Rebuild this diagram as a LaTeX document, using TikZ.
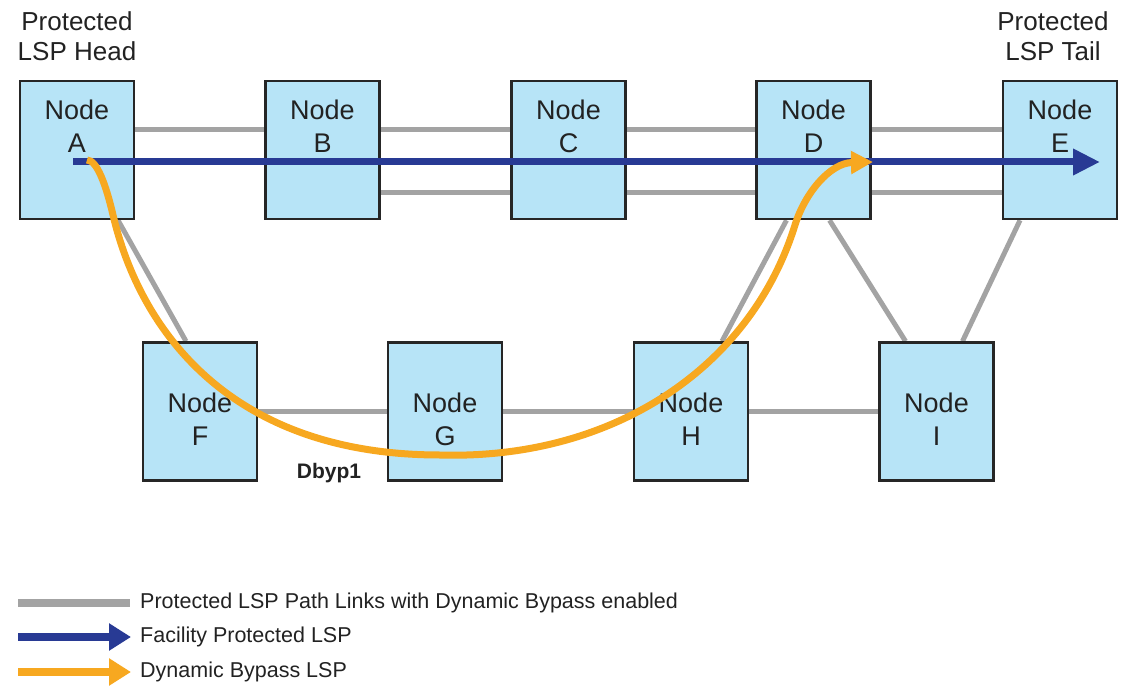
\documentclass[tikz,border=0pt]{standalone}
\usepackage{fontspec}
\setmainfont{Liberation Sans}
\usetikzlibrary{arrows.meta,backgrounds,calc}
\definecolor{boxblue}{RGB}{183,228,247}
\definecolor{linkgray}{RGB}{163,163,163}
\definecolor{lspblue}{RGB}{40,58,148}
\definecolor{bypassorange}{RGB}{247,168,32}
\definecolor{txt}{RGB}{34,34,34}
\tikzset{
  nodebox/.style={draw=black!85, line width=2.5pt, fill=boxblue, minimum width=114pt, minimum height=138pt, inner sep=0pt},
  nodetext/.style={text=txt, align=center, font=\fontsize{27}{33}\selectfont, inner sep=0pt},
  headlabel/.style={text=txt, align=center, font=\fontsize{26}{30}\selectfont, inner sep=0pt},
  link/.style={draw=linkgray, line width=5pt},
  facility/.style={draw=lspblue, line width=7pt, -{Triangle[length=27pt,width=25pt]}},
  bypass/.style={draw=bypassorange, line width=7pt, line join=round, -{Triangle[length=22pt,width=22pt]}},
  legtext/.style={text=txt, anchor=west, font=\fontsize{21.5}{24}\selectfont, inner sep=0pt},
}
\begin{document}
\begin{tikzpicture}[x=1pt,y=-1pt]
\useasboundingbox (0,0) rectangle (1131,692);
% boxes
\node[nodebox] (A) at (77,150) {};
\node[nodebox] (B) at (322.5,150) {};
\node[nodebox] (C) at (568.5,150) {};
\node[nodebox] (D) at (813.5,150) {};
\node[nodebox] (E) at (1060,150) {};
\node[nodebox] (F) at (200,411.5) {};
\node[nodebox] (G) at (445,411.5) {};
\node[nodebox] (H) at (691,411.5) {};
\node[nodebox] (I) at (936.5,411.5) {};
% texts
\node[nodetext] at ([yshift=24pt]A.center) {Node\\A};
\node[nodetext] at ([yshift=24pt]B.center) {Node\\B};
\node[nodetext] at ([yshift=24pt]C.center) {Node\\C};
\node[nodetext] at ([yshift=24pt]D.center) {Node\\D};
\node[nodetext] at ([yshift=24pt]E.center) {Node\\E};
\node[nodetext] at ([yshift=-8pt]F.center) {Node\\F};
\node[nodetext] at ([yshift=-8pt]G.center) {Node\\G};
\node[nodetext] at ([yshift=-8pt]H.center) {Node\\H};
\node[nodetext] at ([yshift=-8pt]I.center) {Node\\I};
\node[headlabel] (head) at (77,36) {Protected\\LSP Head};
\node[headlabel] (tail) at (1053,36) {Protected\\LSP Tail};
\node[text=txt, font=\fontsize{21}{24}\selectfont\bfseries, inner sep=0pt] (dbyp) at (329,473) {Dbyp1};
% links
\begin{scope}[on background layer]
\draw[link] ([yshift=20pt]A.center) -- ([yshift=20pt]B.center);
\draw[link] ([yshift=20pt]B.center) -- ([yshift=20pt]C.center);
\draw[link] ([yshift=-43pt]B.center) -- ([yshift=-43pt]C.center);
\draw[link] ([yshift=20pt]C.center) -- ([yshift=20pt]D.center);
\draw[link] ([yshift=-43pt]C.center) -- ([yshift=-43pt]D.center);
\draw[link] ([yshift=20pt]D.center) -- ([yshift=20pt]E.center);
\draw[link] ([yshift=-43pt]D.center) -- ([yshift=-43pt]E.center);
\draw[link] (F.center) -- (G.center);
\draw[link] (G.center) -- (H.center);
\draw[link] (H.center) -- (I.center);
\draw[link] ([xshift=41pt]A.south) -- ([xshift=-14pt]F.north);
\draw[link] ([xshift=-27pt]D.south) -- ([xshift=31pt]H.north);
\draw[link] ([xshift=16pt]D.south) -- ([xshift=-31pt]I.north);
\draw[link] ([xshift=-40pt]E.south) -- ([xshift=26pt]I.north);
\end{scope}
% facility protected LSP
\coordinate (etip) at (1100,162);
\draw[facility] ([xshift=-4pt,yshift=-12pt]A.center) -- (etip);
% dynamic bypass LSP
\coordinate (ostart) at (87,160);
\coordinate (oend) at (873,162);
\draw[bypass] (ostart) .. controls (97,160) and (106,185) .. (113,215)
  .. controls (140,330) and (230,455) .. (440,455)
  .. controls (610,460) and (750,370) .. (795,225)
  .. controls (805,193) and (830,163) .. (oend);
% legend
\coordinate (l1a) at (18,603); \coordinate (l1b) at (130,603);
\coordinate (l2a) at (18,637); \coordinate (l2b) at (131,637);
\coordinate (l3a) at (18,672); \coordinate (l3b) at (131,672);
\draw[draw=linkgray, line width=8pt] (l1a) -- (l1b);
\draw[draw=lspblue, line width=8pt, -{Triangle[length=22pt,width=26pt]}] (l2a) -- (l2b);
\draw[draw=bypassorange, line width=8pt, -{Triangle[length=22pt,width=26pt]}] (l3a) -- (l3b);
\node[legtext] (t1) at (140,603) {Protected LSP Path Links with Dynamic Bypass enabled};
\node[legtext] (t2) at (140,637) {Facility Protected LSP};
\node[legtext] (t3) at (140,672) {Dynamic Bypass LSP};
\end{tikzpicture}
\end{document}
